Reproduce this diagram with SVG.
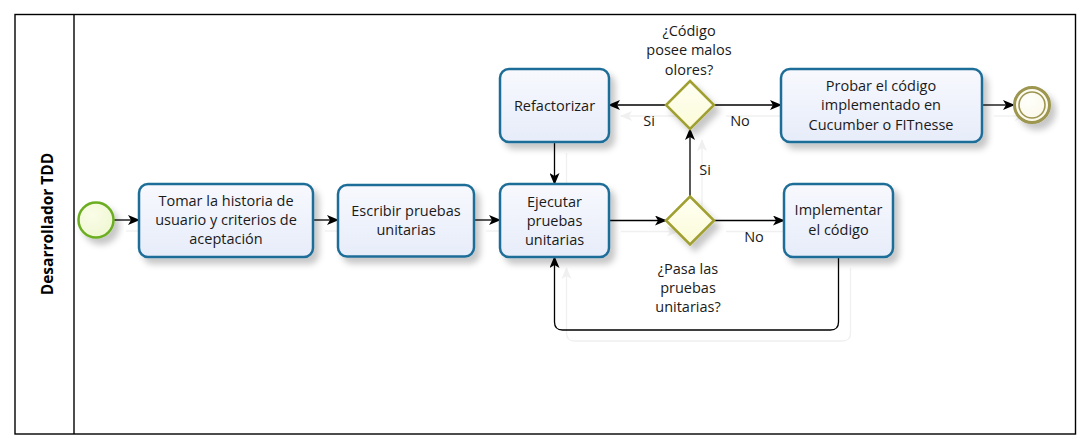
<svg xmlns="http://www.w3.org/2000/svg" width="1086" height="448" viewBox="0 0 1086 448">
<style>
.t{font-family:"Open Sans","Noto Sans","DejaVu Sans",sans-serif;font-size:14.5px;fill:#1a1a1a;text-anchor:middle}
.task{fill:url(#gTask);stroke:#1f6e98;stroke-width:2.5;filter:url(#sh)}
.gw{fill:url(#gGw);stroke:#a0a032;stroke-width:2.5;filter:url(#sh)}
.c{fill:none;stroke:#000;stroke-width:1.3;marker-end:url(#ar)}
.lane{fill:none;stroke:#000;stroke-width:1.4}
</style>
<defs>
<linearGradient id="gTask" x1="0" y1="0" x2="0" y2="1"><stop offset="0" stop-color="#f8f9fe"/><stop offset="1" stop-color="#e6ecf9"/></linearGradient>
<linearGradient id="gGw" x1="0" y1="0" x2="0" y2="1"><stop offset="0" stop-color="#fffff4"/><stop offset="1" stop-color="#fbfbd8"/></linearGradient>
<radialGradient id="gStart" cx="0.4" cy="0.35" r="0.7"><stop offset="0" stop-color="#fbfde8"/><stop offset="1" stop-color="#eef7d2"/></radialGradient>
<radialGradient id="gEnd" cx="0.4" cy="0.35" r="0.7"><stop offset="0" stop-color="#fffffa"/><stop offset="1" stop-color="#fbf8ea"/></radialGradient>
<filter id="sh" x="-20%" y="-20%" width="150%" height="160%">
<feGaussianBlur in="SourceAlpha" stdDeviation="3"/>
<feOffset dx="5" dy="6" result="b"/>
<feFlood flood-color="#000" flood-opacity="0.22"/>
<feComposite in2="b" operator="in"/>
<feMerge><feMergeNode/><feMergeNode in="SourceGraphic"/></feMerge>
</filter>
<filter id="csh" x="-5%" y="-5%" width="115%" height="130%">
<feOffset in="SourceAlpha" dx="12" dy="11" result="o"/>
<feFlood flood-color="#000" flood-opacity="0.06"/>
<feComposite in2="o" operator="in"/>
<feMerge><feMergeNode/><feMergeNode in="SourceGraphic"/></feMerge>
</filter>
<marker id="ar" viewBox="0 0 12 10" refX="11" refY="5" markerWidth="12" markerHeight="10" markerUnits="userSpaceOnUse" orient="auto">
<path d="M0,0 L12,5 L0,10 L3,5 z" fill="#000"/>
</marker>
</defs>
<rect width="1086" height="448" fill="#fff"/>
<g id="pool">
<rect class="lane" x="15" y="14.5" width="1060.5" height="419.5"/>
<line class="lane" x1="74" y1="14.5" x2="74" y2="434"/>
<text transform="translate(53,224) rotate(-90)" style="font-family:'Open Sans','Noto Sans',sans-serif;font-size:15.5px;font-weight:bold;text-anchor:middle;fill:#000">Desarrollador TDD</text>
</g>
<g id="connectors" filter="url(#csh)">
<line class="c" x1="114" y1="220" x2="139" y2="220"/>
<line class="c" x1="313" y1="220" x2="338" y2="220"/>
<line class="c" x1="474" y1="220" x2="500" y2="220"/>
<line class="c" x1="609" y1="220.5" x2="666" y2="220.5"/>
<line class="c" x1="714" y1="220.5" x2="784" y2="220.5"/>
<line class="c" x1="690" y1="196.5" x2="690" y2="129"/>
<line class="c" x1="666" y1="105" x2="609" y2="105"/>
<line class="c" x1="714" y1="105" x2="781" y2="105"/>
<line class="c" x1="554.5" y1="142" x2="554.5" y2="184"/>
<line class="c" x1="982" y1="105" x2="1014" y2="105"/>
<path class="c" d="M838.5,257 V322 Q838.5,330 830.5,330 H562.5 Q554.5,330 554.5,322 V257"/>
</g>
<g id="connector-labels">
<text class="t" x="649" y="126">Si</text>
<text class="t" x="740" y="126">No</text>
<text class="t" x="705" y="175">Si</text>
<text class="t" x="754" y="242">No</text>
</g>
<g id="start">
<circle cx="96" cy="220" r="17.5" fill="url(#gStart)" stroke="#6cae22" stroke-width="2.5" filter="url(#sh)"/>
</g>
<g id="task1">
<rect class="task" x="139" y="184" width="174" height="73" rx="9"/>
<text class="t" x="226" y="206">Tomar la historia de</text>
<text class="t" x="226" y="225">usuario y criterios de</text>
<text class="t" x="226" y="244">aceptación</text>
</g>
<g id="task2">
<rect class="task" x="338" y="185" width="136" height="71.5" rx="9"/>
<text class="t" x="406" y="216">Escribir pruebas</text>
<text class="t" x="406" y="235">unitarias</text>
</g>
<g id="task3">
<rect class="task" x="500" y="184" width="109" height="73" rx="9"/>
<text class="t" x="554.5" y="207">Ejecutar</text>
<text class="t" x="554.5" y="226">pruebas</text>
<text class="t" x="554.5" y="245">unitarias</text>
</g>
<g id="gateway2">
<polygon class="gw" points="690,196.5 714,220.5 690,244.5 666,220.5"/>
<text class="t" x="688" y="274">¿Pasa las</text>
<text class="t" x="688" y="293">pruebas</text>
<text class="t" x="688" y="312">unitarias?</text>
</g>
<g id="task4">
<rect class="task" x="784" y="184" width="109" height="73" rx="9"/>
<text class="t" x="838.5" y="215">Implementar</text>
<text class="t" x="838.5" y="235">el código</text>
</g>
<g id="refactor">
<rect class="task" x="500" y="69" width="109" height="73" rx="9"/>
<text class="t" x="554.5" y="111">Refactorizar</text>
</g>
<g id="gateway1">
<polygon class="gw" points="690,81 714,105 690,129 666,105"/>
<text class="t" x="689" y="36">¿Código</text>
<text class="t" x="689" y="55">posee malos</text>
<text class="t" x="689" y="75">olores?</text>
</g>
<g id="task5">
<rect class="task" x="781" y="69" width="201" height="73" rx="9"/>
<text class="t" x="881" y="91">Probar el código</text>
<text class="t" x="881" y="110">implementado en</text>
<text class="t" x="881" y="130">Cucumber o FITnesse</text>
</g>
<g id="end">
<circle cx="1032" cy="105" r="17.5" fill="url(#gEnd)" stroke="#9c9650" stroke-width="3" filter="url(#sh)"/>
<circle cx="1032" cy="105" r="13" fill="none" stroke="#9c9650" stroke-width="1.6"/>
</g>
</svg>
